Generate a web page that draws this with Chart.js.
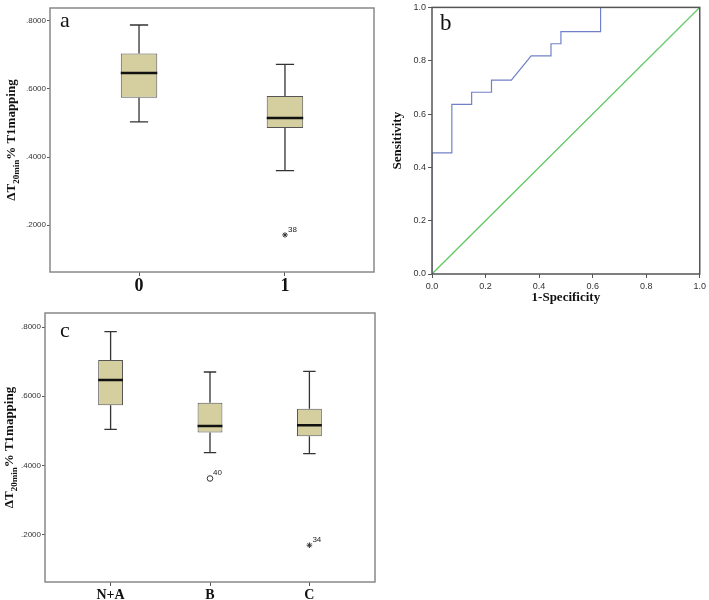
<!DOCTYPE html>
<html>
<head>
<meta charset="utf-8">
<script src="https://cdn.jsdelivr.net/npm/chart.js@4.4.0/dist/chart.umd.min.js"></script>
<style>
  html, body { margin: 0; padding: 0; background: #fff; }
  body { width: 709px; height: 600px; position: relative; overflow: hidden; }
  canvas { position: absolute; }
</style>
</head>
<body>
<canvas id="chartA" width="380" height="300" style="left:0;top:0"></canvas>
<canvas id="chartB" width="329" height="310" style="left:380px;top:0"></canvas>
<canvas id="chartC" width="380" height="300" style="left:0;top:300px"></canvas>
<script>
// panel a: two groups
const groupsA = ['0', '1'];
const maxA = [0.788, 0.672];
const q3A = [0.704, 0.579];
const medA = [0.647, 0.515];
const q1A = [0.574, 0.485];
const minA = [0.503, 0.360];
const outGroupA = [1];
const outValueA = [0.171];
const outIdA = ['38'];
const outStyleA = ['star'];

// panel c: three groups
const groupsC = ['N+A', 'B', 'C'];
const maxC = [0.787, 0.670, 0.672];
const q3C = [0.705, 0.581, 0.564];
const medC = [0.647, 0.514, 0.516];
const q1C = [0.574, 0.495, 0.484];
const minC = [0.504, 0.437, 0.434];
const outGroupC = [1, 2];
const outValueC = [0.362, 0.169];
const outIdC = ['40', '34'];
const outStyleC = ['circle', 'star'];

const boxTicks = [0.2, 0.4, 0.6, 0.8];

// panel b: ROC curve
const fpr = [0, 0, 0.0741, 0.0741, 0.1481, 0.1481, 0.2222, 0.2222, 0.2963, 0.3704, 0.4444, 0.4444, 0.4815, 0.4815, 0.6296, 0.6296, 1];
const tpr = [0, 0.4545, 0.4545, 0.6364, 0.6364, 0.6818, 0.6818, 0.7273, 0.7273, 0.8182, 0.8182, 0.8636, 0.8636, 0.9091, 0.9091, 1, 1];
const refX = [0, 1];
const refY = [0, 1];


const framePlugin = {
  id: 'frame',
  afterDraw(chart, args, opts) {
    const { ctx, chartArea: a } = chart;
    ctx.save();
    ctx.strokeStyle = opts.color || '#888';
    ctx.lineWidth = 1.5;
    ctx.strokeRect(a.left, a.top, a.right - a.left, a.bottom - a.top);
    ctx.restore();
  }
};

const letterPlugin = {
  id: 'letter',
  afterDraw(chart, args, opts) {
    const { ctx, chartArea: a } = chart;
    ctx.save();
    ctx.font = opts.size + 'px "Liberation Serif", "Times New Roman", serif';
    ctx.fillStyle = '#111';
    ctx.textBaseline = 'alphabetic';
    ctx.fillText(opts.text, a.left + opts.dx, a.top + opts.dy);
    ctx.restore();
  }
};

// y title with subscript, drawn rotated
const yTitlePlugin = {
  id: 'yTitle',
  afterDraw(chart, args, opts) {
    const { ctx, chartArea: a } = chart;
    const main = 'bold 13px "Liberation Serif", "Times New Roman", serif';
    const sub = 'bold 9px "Liberation Serif", "Times New Roman", serif';
    const parts = [['ΔT', main, 0], ['20min', sub, 4], ['% T1mapping', main, 0]];
    ctx.save();
    let total = 0;
    parts.forEach(p => { ctx.font = p[1]; total += ctx.measureText(p[0]).width; });
    ctx.translate(0, (a.top + a.bottom) / 2);
    ctx.rotate(-Math.PI / 2);
    ctx.fillStyle = '#111';
    ctx.textBaseline = 'alphabetic';
    let x = -total / 2;
    parts.forEach(p => {
      ctx.font = p[1];
      ctx.fillText(p[0], x, opts.x + p[2]);
      x += ctx.measureText(p[0]).width;
    });
    ctx.restore();
  }
};

const outlierLabelPlugin = {
  id: 'outlierLabels',
  afterDatasetsDraw(chart) {
    const ctx = chart.ctx;
    ctx.save();
    ctx.font = '8px "Liberation Sans", Arial, sans-serif';
    ctx.fillStyle = '#222';
    chart.data.datasets.forEach((ds, di) => {
      if (!ds.ids) return;
      chart.getDatasetMeta(di).data.forEach((pt, j) => {
        ctx.fillText(ds.ids[j], pt.x + 3, pt.y - 3);
      });
    });
    ctx.restore();
  }
};


function whiskerPoints(max, q3, q1, min) {
  const pts = [];
  const cap = 0.0625;
  max.forEach((v, i) => {
    pts.push({ x: i, y: q3[i] }, { x: i, y: v }, { x: i, y: null });
    pts.push({ x: i - cap, y: v }, { x: i + cap, y: v }, { x: i, y: null });
    pts.push({ x: i, y: q1[i] }, { x: i, y: min[i] }, { x: i, y: null });
    pts.push({ x: i - cap, y: min[i] }, { x: i + cap, y: min[i] }, { x: i, y: null });
  });
  return pts;
}

function medianPoints(med) {
  const pts = [];
  med.forEach((v, i) => {
    pts.push({ x: i - 0.125, y: v }, { x: i + 0.125, y: v }, { x: i, y: null });
  });
  return pts;
}

function boxChart(id, groups, max, q3, med, q1, min, outGroup, outValue, outId, outStyle, lay) {
  return new Chart(document.getElementById(id), {
    type: 'scatter',
    data: {
      datasets: [
        {
          type: 'bar',
          data: groups.map((g, i) => ({ x: i, y: [q1[i], q3[i]] })),
          backgroundColor: '#d5cf9f',
          borderColor: '#555',
          borderWidth: 1,
          borderSkipped: false,
          categoryPercentage: 1,
          barPercentage: 0.25,
          order: 2
        },
        {
          type: 'line',
          data: whiskerPoints(max, q3, q1, min),
          borderColor: '#333',
          borderWidth: 1.3,
          pointRadius: 0,
          spanGaps: false,
          order: 3
        },
        {
          type: 'line',
          data: medianPoints(med),
          borderColor: '#111',
          borderWidth: 2.5,
          pointRadius: 0,
          spanGaps: false,
          order: 0
        },
        {
          type: 'scatter',
          data: outGroup.map((g, i) => ({ x: g, y: outValue[i] })),
          ids: outId,
          pointStyle: outStyle,
          pointRadius: 2.8,
          backgroundColor: '#fff',
          borderColor: '#333',
          borderWidth: 1,
          order: 0
        }
      ]
    },
    options: {
      responsive: false,
      animation: false,
      devicePixelRatio: 1,
      layout: { padding: { left: 0, top: lay.top, right: lay.right, bottom: 0 } },
      plugins: {
        legend: { display: false },
        tooltip: { enabled: false },
        frame: { color: '#888' },
        letter: { text: lay.letter, dx: lay.letterDx, dy: lay.letterDy, size: 22 },
        yTitle: { x: lay.titleX }
      },
      scales: {
        x: {
          type: 'linear',
          min: lay.xMin,
          max: lay.xMax,
          offset: false,
          afterBuildTicks: s => { s.ticks = groups.map((g, i) => ({ value: i })); },
          afterFit: s => { s.height = lay.xHeight; },
          ticks: {
            callback: v => groups[v],
            color: '#111',
            padding: lay.xPad,
            maxRotation: 0,
            font: { family: '"Liberation Serif", "Times New Roman", serif', size: lay.xFont, weight: 'bold' }
          },
          grid: { display: true, offset: false, drawOnChartArea: false, drawTicks: true, tickLength: 4, color: '#555' },
          border: { display: false }
        },
        y: {
          min: lay.yMin,
          max: lay.yMax,
          afterBuildTicks: s => { s.ticks = boxTicks.map(v => ({ value: v })); },
          afterFit: s => { s.width = lay.yWidth; },
          ticks: {
            callback: v => v.toFixed(4).replace(/^0/, ''),
            color: '#333',
            padding: 1,
            font: { family: '"Liberation Sans", Arial, sans-serif', size: 8 }
          },
          grid: { display: true, offset: false, drawOnChartArea: false, drawTicks: true, tickLength: 3, color: '#555' },
          border: { display: false }
        }
      }
    },
    plugins: [framePlugin, letterPlugin, yTitlePlugin, outlierLabelPlugin]
  });
}

boxChart('chartA', groupsA, maxA, q3A, medA, q1A, minA, outGroupA, outValueA, outIdA, outStyleA, {
  top: 8, right: 6, xHeight: 28, yWidth: 50, xMin: -0.61, xMax: 1.61, yMin: 0.062, yMax: 0.838,
  xPad: 0, xFont: 18, letter: 'a', letterDx: 10, letterDy: 19, titleX: 15
});

boxChart('chartC', groupsC, maxC, q3C, medC, q1C, minC, outGroupC, outValueC, outIdC, outStyleC, {
  top: 13, right: 4, xHeight: 18, yWidth: 45, xMin: -0.66, xMax: 2.66, yMin: 0.0626, yMax: 0.8406,
  xPad: 1, xFont: 14, letter: 'c', letterDx: 15, letterDy: 24, titleX: 13
});

const rocTick = v => v.toFixed(1);

new Chart(document.getElementById('chartB'), {
  type: 'scatter',
  data: {
    datasets: [
      {
        data: fpr.map((x, i) => ({ x: x, y: tpr[i] })),
        showLine: true,
        borderColor: '#7080c8',
        borderWidth: 1.2,
        pointRadius: 0
      },
      {
        data: refX.map((x, i) => ({ x: x, y: refY[i] })),
        showLine: true,
        borderColor: '#5fc85f',
        borderWidth: 1.3,
        pointRadius: 0
      }
    ]
  },
  options: {
    responsive: false,
    animation: false,
    devicePixelRatio: 1,
    layout: { padding: { left: 0, top: 4, right: 8, bottom: 0 } },
    plugins: {
      legend: { display: false },
      tooltip: { enabled: false },
      frame: { color: '#555' },
      letter: { text: 'b', dx: 8, dy: 23, size: 23 }
    },
    scales: {
      x: {
        min: 0,
        max: 1,
        afterFit: s => { s.height = 36; },
        ticks: { stepSize: 0.2, callback: rocTick, color: '#333', padding: 3,
          font: { family: '"Liberation Sans", Arial, sans-serif', size: 9 } },
        grid: { display: true, offset: false, drawOnChartArea: false, drawTicks: true, tickLength: 4, color: '#555' },
        border: { display: false },
        title: { display: true, text: '1-Specificity', color: '#111', padding: { top: 0, bottom: 5 },
          font: { family: '"Liberation Serif", "Times New Roman", serif', size: 13, weight: 'bold' } }
      },
      y: {
        min: 0,
        max: 1,
        afterFit: s => { s.width = 52; },
        ticks: { stepSize: 0.2, callback: rocTick, color: '#333', padding: 2,
          font: { family: '"Liberation Sans", Arial, sans-serif', size: 9 } },
        grid: { display: true, offset: false, drawOnChartArea: false, drawTicks: true, tickLength: 4, color: '#555' },
        border: { display: false },
        title: { display: true, text: 'Sensitivity', color: '#111', padding: { top: 10, bottom: 0 },
          font: { family: '"Liberation Serif", "Times New Roman", serif', size: 13, weight: 'bold' } }
      }
    }
  },
  plugins: [framePlugin, letterPlugin]
});
</script>
</body>
</html>
